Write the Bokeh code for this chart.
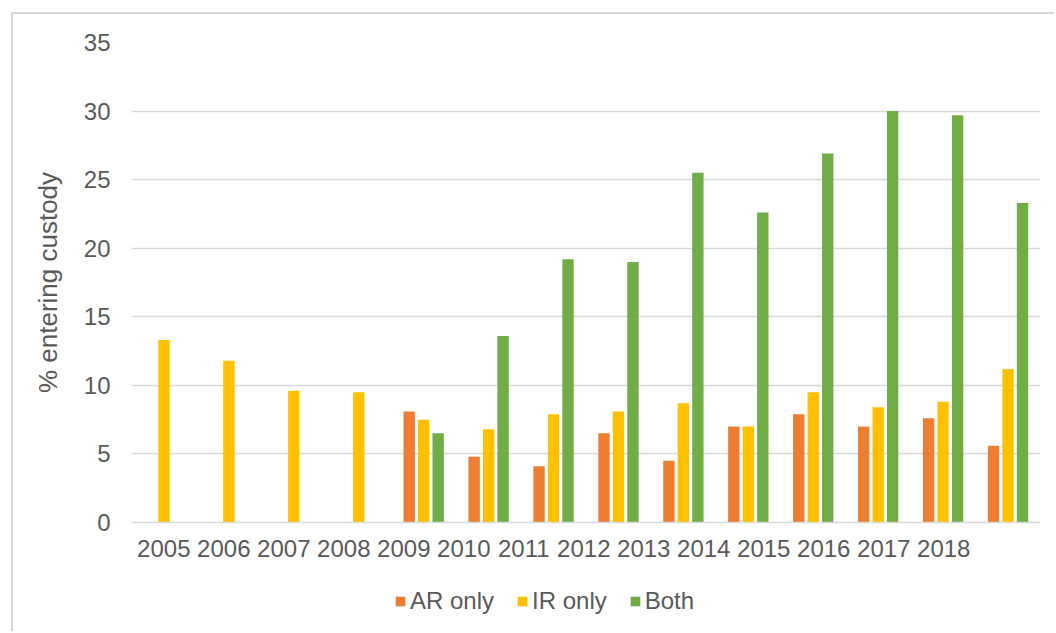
from bokeh.plotting import figure
from bokeh.layouts import column
from bokeh.models import (Range1d, LinearAxis, FixedTicker, Legend, LegendItem,
                          ColumnDataSource)
from bokeh.embed import file_html
from bokeh.resources import INLINE

# ---- data ----
years = ["2005", "2006", "2007", "2008", "2009", "2010", "2011",
         "2012", "2013", "2014", "2015", "2016", "2017", "2018"]
ar_only = [None, None, None, None, 8.1, 4.8, 4.1, 6.5, 4.5, 7.0, 7.9, 7.0, 7.6, 5.6]
ir_only = [13.3, 11.8, 9.6, 9.5, 7.5, 6.8, 7.9, 8.1, 8.7, 7.0, 9.5, 8.4, 8.8, 11.2]
both = [None, None, None, None, 6.5, 13.6, 19.2, 19.0, 25.5, 22.6, 26.9, 30.0, 29.7, 23.3]
y_ticks = [0, 5, 10, 15, 20, 25, 30, 35]
series_names = ["AR only", "IR only", "Both"]

# ---- style ----
FONT = "Liberation Sans"
TXT = "#595959"
GRID = "#d9d9d9"
COLORS = ["#ED7D31", "#FFC000", "#70AD47"]
BAR_W = 0.175
OFFS = [-0.223, 0.0, 0.223]
BORDER = "2px solid #d9d9d9"

p = figure(width=1043, height=560,
           x_range=Range1d(-0.5, len(years) - 0.5), y_range=Range1d(0, 35),
           x_axis_type=None, output_backend="svg", toolbar_location=None,
           min_border_left=118, min_border_right=16, min_border_top=28,
           min_border_bottom=52)
p.outline_line_color = None
p.background_fill_color = "white"
p.border_fill_color = "white"
p.margin = (12, 0, 0, 11)
p.styles = {"border-left": BORDER, "border-top": BORDER}

# label axis (Excel squeezed category labels)
p.extra_x_ranges = {"labels": Range1d(-0.5383, 14.612)}
xaxis = LinearAxis(x_range_name="labels",
                   ticker=FixedTicker(ticks=list(range(len(years)))),
                   major_label_overrides={i: y for i, y in enumerate(years)})
xaxis.major_tick_line_color = None
xaxis.minor_tick_line_color = None
xaxis.major_tick_out = 0
xaxis.major_tick_in = 0
xaxis.minor_tick_out = 0
xaxis.axis_line_color = GRID
xaxis.axis_line_width = 1.5
xaxis.major_label_text_font = FONT
xaxis.major_label_text_font_size = "24px"
xaxis.major_label_text_color = TXT
xaxis.major_label_standoff = 17
p.add_layout(xaxis, "below")

yaxis = p.yaxis[0]
yaxis.ticker = FixedTicker(ticks=y_ticks)
yaxis.axis_line_color = None
yaxis.major_tick_line_color = None
yaxis.minor_tick_line_color = None
yaxis.major_tick_out = 0
yaxis.major_tick_in = 0
yaxis.minor_tick_out = 0
yaxis.major_label_text_font = FONT
yaxis.major_label_text_font_size = "24px"
yaxis.major_label_text_color = TXT
yaxis.major_label_standoff = 21
yaxis.axis_label = "% entering custody"
yaxis.axis_label_text_font = FONT
yaxis.axis_label_text_font_size = "26px"
yaxis.axis_label_text_font_style = "normal"
yaxis.axis_label_text_color = TXT
yaxis.axis_label_standoff = 18

p.xgrid.visible = False
p.ygrid.ticker = FixedTicker(ticks=y_ticks)
p.ygrid.grid_line_color = GRID
p.ygrid.grid_line_width = 1.5

sources = []
for vals, col, off in zip([ar_only, ir_only, both], COLORS, OFFS):
    xs = [i + off for i, v in enumerate(vals) if v is not None]
    ys = [v for v in vals if v is not None]
    src = ColumnDataSource(dict(x=xs, top=ys))
    sources.append(src)
    p.vbar(x="x", top="top", bottom=0, width=BAR_W, source=src,
           fill_color=col, line_color=None)

# ---- legend strip (separate figure below the chart; the shared series are
# ---- attached there as hidden renderers, so only the legend shows)
q = figure(width=1043, height=59, x_range=Range1d(-0.5, len(years) - 0.5),
           y_range=Range1d(-2, -1),
           x_axis_type=None, y_axis_type=None, output_backend="svg",
           toolbar_location=None, min_border=0)
q.outline_line_color = None
q.xgrid.visible = False
q.ygrid.visible = False
q.background_fill_color = "white"
q.border_fill_color = "white"
q.margin = (0, 0, 0, 11)
q.styles = {"border-left": BORDER}

legend_renderers = []
for src, col in zip(sources, COLORS):
    r = q.vbar(x="x", top="top", bottom="top", width=BAR_W,
               source=src, fill_color=col, line_color=None)
    r.visible = False
    legend_renderers.append(r)

legend = Legend(items=[LegendItem(label=n, renderers=[r])
                       for n, r in zip(series_names, legend_renderers)],
                orientation="horizontal", location=(263, 16),
                glyph_width=12, glyph_height=12, label_standoff=4, spacing=22,
                padding=0, margin=0, border_line_color=None,
                background_fill_alpha=0, inactive_fill_alpha=0,
                label_text_font=FONT,
                label_text_font_size="24px", label_text_color=TXT)
q.add_layout(legend)

layout = column(p, q, spacing=0)
open("out.html", "w").write(file_html(layout, INLINE))
